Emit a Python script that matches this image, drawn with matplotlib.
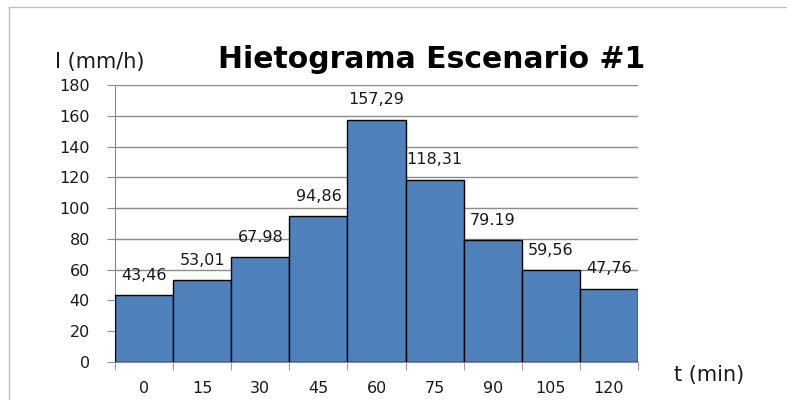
import matplotlib
matplotlib.use("Agg")
import matplotlib.pyplot as plt
from matplotlib.lines import Line2D
from matplotlib.ticker import MultipleLocator

plt.rcParams['font.family'] = ['DejaVu Sans']

# ---- Data ----
t_labels = ["0", "15", "30", "45", "60", "75", "90", "105", "120"]
intensity = [43.46, 53.01, 67.98, 94.86, 157.29, 118.31, 79.19, 59.56, 47.76]
value_labels = ["43,46", "53,01", "67.98", "94,86", "157,29", "118,31", "79.19", "59,56", "47,76"]

# ---- Plot ----
fig = plt.figure(figsize=(7.87, 4.0), dpi=100)
ax = fig.add_axes([0.1461, 0.095, 0.6646, 0.6925])

x = list(range(len(intensity)))
ax.bar(x, intensity, width=1.0, color="#4F81BD", edgecolor="black", linewidth=1.0, zorder=3)

for xi, v, lab in zip(x, intensity, value_labels):
    ax.annotate(lab, (xi, v), xytext=(0, 9), textcoords="offset points",
                ha="center", va="bottom", fontsize=11.5, color="#1a1a1a", zorder=4)

ax.set_xlim(-0.5, len(intensity) - 0.5)
ax.set_ylim(0, 180)
ax.yaxis.set_major_locator(MultipleLocator(20))
ax.grid(axis="y", color="#8C8C8C", linewidth=1.0, zorder=0)

ax.set_xticks(x)
ax.set_xticklabels(t_labels, fontsize=11.5, color="#1a1a1a")
ax.set_xticks([i - 0.5 for i in range(len(intensity) + 1)], minor=True)
ax.tick_params(axis="x", which="major", length=0, pad=14)
ax.tick_params(axis="x", which="minor", length=6, color="#8C8C8C", direction="out")
ax.tick_params(axis="y", length=6, color="#8C8C8C", labelsize=11.5, labelcolor="#1a1a1a", pad=12)

for s in ["top", "right"]:
    ax.spines[s].set_visible(False)
for s in ["left", "bottom"]:
    ax.spines[s].set_color("#8C8C8C")

fig.text(0.549, 0.85, "Hietograma Escenario #1", ha="center", va="center",
         fontsize=21.5, fontweight="bold", color="black")
fig.text(0.07, 0.845, "I (mm/h)", ha="left", va="center", fontsize=15, color="#1a1a1a")
fig.text(0.857, 0.063, "t (min)", ha="left", va="center", fontsize=15, color="#1a1a1a")

# outer frame
fig.add_artist(Line2D([9 / 787, 1.0], [1 - 7 / 400, 1 - 7 / 400], transform=fig.transFigure,
                      color="#BFBFBF", linewidth=1.0))
fig.add_artist(Line2D([9 / 787, 9 / 787], [0.0, 1 - 7 / 400], transform=fig.transFigure,
                      color="#BFBFBF", linewidth=1.0))

fig.savefig("out.png", dpi=100)
